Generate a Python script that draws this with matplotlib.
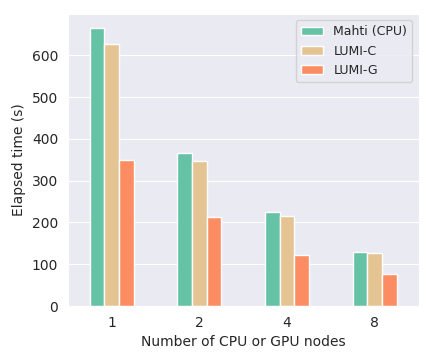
import numpy as np
import pandas as pd
import seaborn as sns
import matplotlib
matplotlib.use("Agg")
import matplotlib.pyplot as plt

nodes = ["1", "2", "4", "8"]
mahti_cpu = [666, 366, 224, 129]
lumi_c = [628, 347, 215, 126]
lumi_g = [349, 212, 122, 77]

sns.set_style("darkgrid")

df = pd.DataFrame({"Mahti (CPU)": mahti_cpu,
                   "LUMI-C": lumi_c,
                   "LUMI-G": lumi_g}, index=nodes)

colors = ["#66c2a5", "#e5c494", "#fc8d62"]

fig, ax = plt.subplots(figsize=(4.32, 3.6), dpi=100)
df.plot.bar(ax=ax, color=colors, edgecolor="white", linewidth=1, rot=0)
ax.grid(axis="x", visible=False)
ax.set_xlabel("Number of CPU or GPU nodes")
ax.set_ylabel("Elapsed time (s)")
ax.legend(loc="upper right", fontsize=9, handlelength=1.8)

fig.subplots_adjust(left=0.157, right=0.969, bottom=0.15, top=0.961)
fig.savefig("out.png", dpi=100)
